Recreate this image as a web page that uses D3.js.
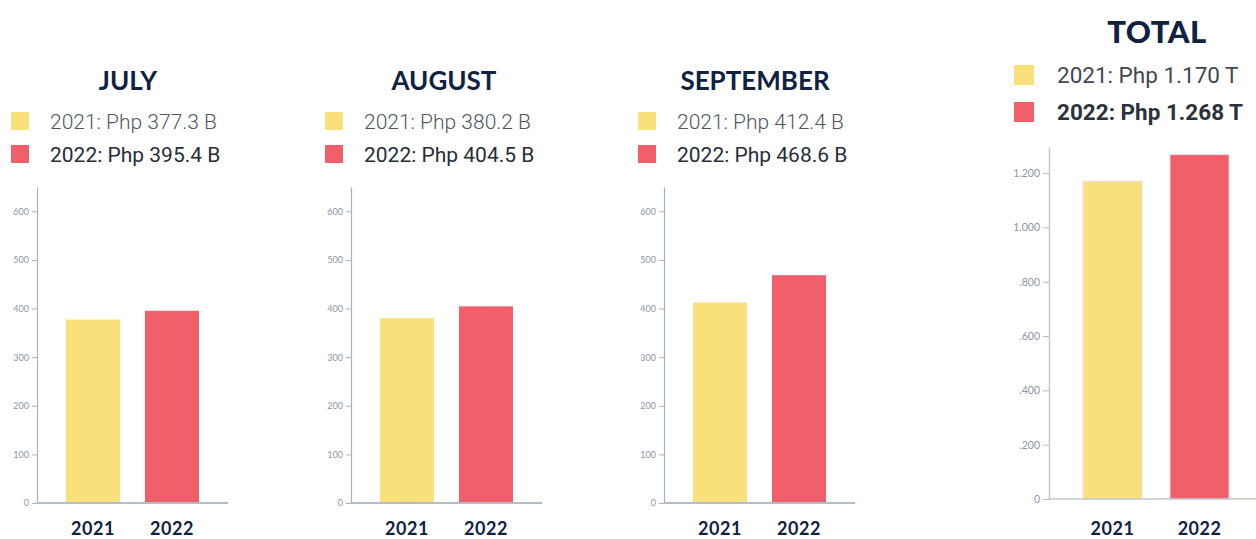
<!DOCTYPE html>
<html>
<head>
<meta charset="utf-8">
<script src="https://cdn.jsdelivr.net/npm/d3@7"></script>
<style>
  body { margin: 0; background: #fff; }
  svg { display: block; }
  .tick text { fill: #8c95a6; font-family: Lato, sans-serif; }
</style>
</head>
<body>
<div id="chart"></div>
<script>
// data
const months = ["JULY", "AUGUST", "SEPTEMBER"];
const years = ["2021", "2022"];
const values2021 = [377.3, 380.2, 412.4];
const values2022 = [395.4, 404.5, 468.6];
const monthTicks = [0, 100, 200, 300, 400, 500, 600];

const totalTitle = "TOTAL";
const totals = [1.170, 1.268];
const totalTicks = [0, 0.2, 0.4, 0.6, 0.8, 1.0, 1.2];
const totalTickLabels = ["0", ".200", ".400", ".600", ".800", "1.000", "1.200"];

const colors = ["#f9e07b", "#f05f6a"];
const navy = "#0f2241";

const width = 1256, height = 539;

const svg = d3.select("#chart")
    .append("svg")
        .attr("width", width)
        .attr("height", height);

// one monthly panel
function drawMonth(i) {
    const ox = [0, 314, 627][i];
    const vals = [values2021[i], values2022[i]];
    const g = svg.append("g").attr("transform", `translate(${ox},0)`);

    const x = d3.scaleBand()
        .domain(years)
        .range([37, 228])
        .paddingInner(0.316)
        .paddingOuter(0.367);

    const y = d3.scaleLinear()
        .domain([0, 650])
        .range([503, 187]);

    // title
    g.append("text")
        .attr("x", [128, 130, 128][i])
        .attr("y", 90)
        .attr("text-anchor", "middle")
        .style("font-family", "Lato, sans-serif")
        .style("font-weight", 700)
        .style("font-size", "26px")
        .style("fill", navy)
        .text(months[i]);

    // legend
    const leg = g.selectAll(".leg")
        .data(years)
        .join("g")
            .attr("class", "leg")
            .attr("transform", (d, j) => `translate(11,${112 + j * 33})`);
    leg.append("rect")
        .attr("width", 18)
        .attr("height", 18)
        .attr("fill", (d, j) => colors[j]);
    leg.append("text")
        .attr("x", 39)
        .attr("y", 17)
        .style("font-family", "Roboto, sans-serif")
        .style("font-size", "21px")
        .style("font-weight", (d, j) => j == 0 ? 300 : 400)
        .style("fill", (d, j) => j == 0 ? "#4d5762" : "#262e38")
        .text((d, j) => d + ": Php " + vals[j].toFixed(1) + " B");

    // bars
    g.selectAll(".bar")
        .data(vals)
        .join("rect")
            .attr("class", "bar")
            .attr("x", (d, j) => x(years[j]))
            .attr("width", x.bandwidth())
            .attr("y", d => y(d))
            .attr("height", d => y(0) - y(d))
            .attr("fill", (d, j) => colors[j]);

    // y axis
    const ya = g.append("g")
        .attr("transform", "translate(37,0)")
        .call(d3.axisLeft(y).tickValues(monthTicks).tickSize(5).tickPadding(3).tickSizeOuter(0));
    ya.select(".domain").attr("stroke", "#a9b1bf").attr("stroke-width", 1.2);
    ya.selectAll(".tick line").attr("stroke", "#a9b1bf");
    ya.selectAll(".tick text").style("font-size", "9px");

    // x axis line
    g.append("line")
        .attr("x1", 37).attr("x2", 228)
        .attr("y1", y(0)).attr("y2", y(0))
        .attr("stroke", "#b5bdc9")
        .attr("stroke-width", 2);

    // category labels
    g.selectAll(".cat")
        .data(years)
        .join("text")
            .attr("class", "cat")
            .attr("x", d => x(d) + x.bandwidth() / 2)
            .attr("y", 535)
            .attr("text-anchor", "middle")
            .style("font-family", "Lato, sans-serif")
            .style("font-weight", 700)
            .style("font-size", "18px")
            .style("letter-spacing", "0.5px")
            .style("fill", navy)
            .text(d => d);
}

months.forEach((m, i) => drawMonth(i));

// total panel
const tg = svg.append("g");

const tx = d3.scaleBand()
    .domain(years)
    .range([1049, 1263])
    .paddingInner(0.322)
    .paddingOuter(0.39);

const ty = d3.scaleLinear()
    .domain([0, 1.296])
    .range([499, 147]);

tg.append("text")
    .attr("x", 1157)
    .attr("y", 43)
    .attr("text-anchor", "middle")
    .style("font-family", "Lato, sans-serif")
    .style("font-weight", 900)
    .style("font-size", "31px")
    .style("letter-spacing", "0.5px")
    .style("fill", navy)
    .text(totalTitle);

const tleg = tg.selectAll(".tleg")
    .data(years)
    .join("g")
        .attr("class", "tleg")
        .attr("transform", (d, j) => `translate(1014,${65 + j * 37})`);
tleg.append("rect")
    .attr("width", 20)
    .attr("height", 20)
    .attr("fill", (d, j) => colors[j]);
tleg.append("text")
    .attr("x", 43)
    .attr("y", 18)
    .style("font-family", "Roboto, sans-serif")
    .style("font-size", "22.5px")
    .style("font-weight", (d, j) => j == 0 ? 400 : 700)
    .style("fill", (d, j) => j == 0 ? "#3f4852" : "#2b323b")
    .text((d, j) => d + ": Php " + totals[j].toFixed(3) + " T");

tg.selectAll(".tbar")
    .data(totals)
    .join("rect")
        .attr("class", "tbar")
        .attr("x", (d, j) => tx(years[j]))
        .attr("width", tx.bandwidth())
        .attr("y", d => ty(d))
        .attr("height", d => ty(0) - ty(d))
        .attr("fill", (d, j) => colors[j])
        .attr("stroke", "#e2e2e2")
        .attr("stroke-width", 1);

const tya = tg.append("g")
    .attr("transform", "translate(1049,0)")
    .call(d3.axisLeft(ty)
        .tickValues(totalTicks)
        .tickFormat((d, j) => totalTickLabels[j])
        .tickSize(6).tickPadding(3).tickSizeOuter(0));
tya.select(".domain").attr("stroke", "#c3c8d0").attr("stroke-width", 1.5);
tya.selectAll(".tick line").attr("stroke", "#b5bcc7");
tya.selectAll(".tick text").style("font-size", "10.5px");

tg.append("line")
    .attr("x1", 1049).attr("x2", 1256)
    .attr("y1", ty(0)).attr("y2", ty(0))
    .attr("stroke", "#c3c8d0")
    .attr("stroke-width", 1.5);

tg.selectAll(".tcat")
    .data(years)
    .join("text")
        .attr("class", "tcat")
        .attr("x", d => tx(d) + tx.bandwidth() / 2)
        .attr("y", 535)
        .attr("text-anchor", "middle")
        .style("font-family", "Lato, sans-serif")
        .style("font-weight", 700)
        .style("font-size", "18px")
        .style("letter-spacing", "0.5px")
        .style("fill", navy)
        .text(d => d);
</script>
</body>
</html>
